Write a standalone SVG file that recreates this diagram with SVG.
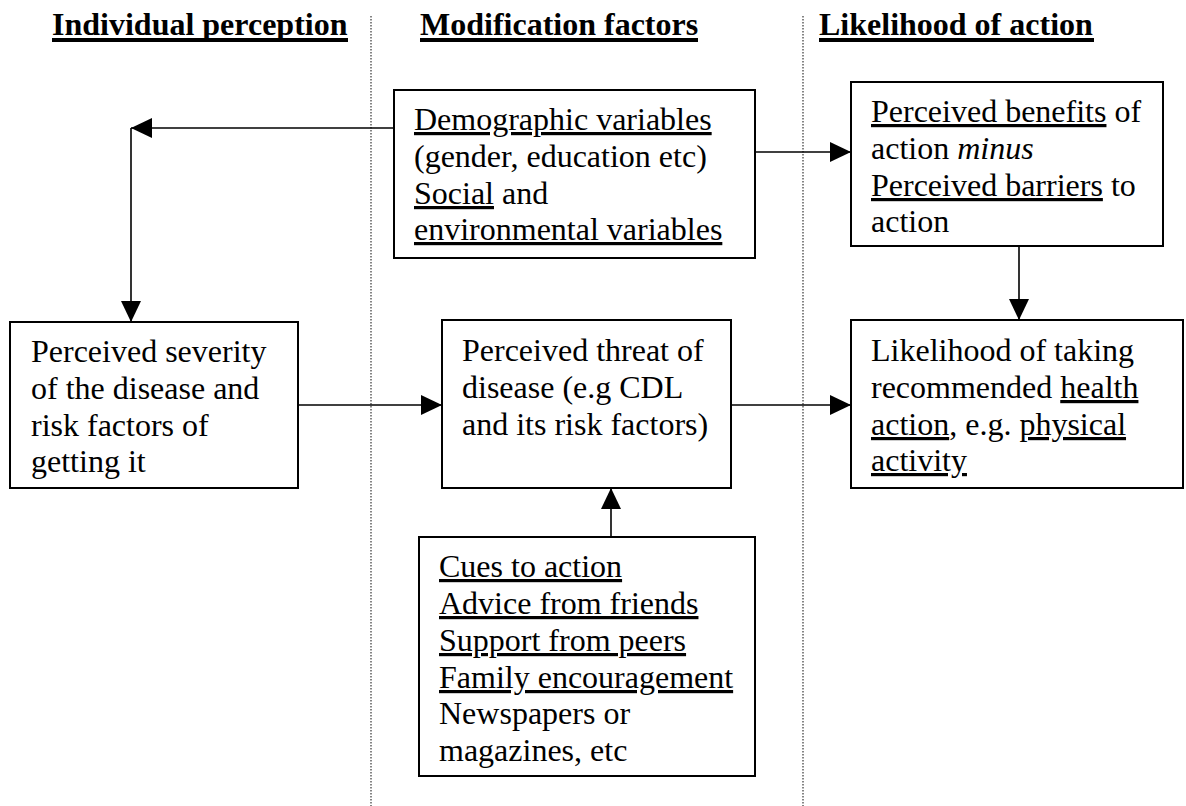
<svg xmlns="http://www.w3.org/2000/svg" width="1186" height="806" viewBox="0 0 1186 806">
<style>
  .box { fill: #fff; stroke: #000; stroke-width: 2; }
  .t { font-family: "Liberation Serif", "Times New Roman", serif; font-size: 32px; fill: #000; }
  .h { font-family: "Liberation Serif", "Times New Roman", serif; font-size: 32px; font-weight: bold; fill: #000; }
  .u { text-decoration: underline; }
  .conn { stroke: #000; stroke-width: 1.6; fill: none; marker-end: url(#arr); }
  .div { stroke: #444; stroke-width: 1.3; stroke-dasharray: 1.5 1.5; }
</style>
<defs>
  <marker id="arr" markerUnits="userSpaceOnUse" markerWidth="21" markerHeight="20" refX="21" refY="10" orient="auto">
    <path d="M0,0 L21,10 L0,20 Z" fill="#000"/>
  </marker>
</defs>
<rect width="1186" height="806" fill="#fff"/>

<g id="dividers">
  <line class="div" x1="371" y1="16" x2="371" y2="806"/>
  <line class="div" x1="803" y1="16" x2="803" y2="806"/>
</g>

<g id="headings">
  <text class="h" x="52" y="35">Individual perception</text>
  <rect x="52" y="38" width="296" height="4" fill="#000"/>
  <text class="h" x="420" y="35">Modification factors</text>
  <rect x="420" y="38" width="278" height="4" fill="#000"/>
  <text class="h" x="819" y="35">Likelihood of action</text>
  <rect x="819" y="38" width="275" height="4" fill="#000"/>
</g>

<g id="connectors">
  <line class="conn" x1="394" y1="128" x2="131" y2="128"/>
  <line class="conn" x1="131" y1="128" x2="131" y2="322"/>
  <line class="conn" x1="755" y1="152" x2="851" y2="152"/>
  <line class="conn" x1="1019" y1="246" x2="1019" y2="320"/>
  <line class="conn" x1="298" y1="405" x2="442" y2="405"/>
  <line class="conn" x1="731" y1="405" x2="851" y2="405"/>
  <line class="conn" x1="611" y1="537" x2="611" y2="488"/>
</g>

<g id="demographic">
  <rect class="box" x="394" y="90" width="361" height="168"/>
  <text class="t" x="414" y="130"><tspan class="u">Demographic variables</tspan></text>
  <text class="t" x="414" y="167">(gender, education etc)</text>
  <text class="t" x="414" y="204"><tspan class="u">Social</tspan> and</text>
  <text class="t" x="414" y="240"><tspan class="u">environmental variables</tspan></text>
</g>

<g id="benefits">
  <rect class="box" x="851" y="82" width="312" height="164"/>
  <text class="t" x="871" y="122"><tspan class="u">Perceived benefits</tspan> of</text>
  <text class="t" x="871" y="159">action <tspan font-style="italic">minus</tspan></text>
  <text class="t" x="871" y="196"><tspan class="u">Perceived barriers</tspan> to</text>
  <text class="t" x="871" y="232">action</text>
</g>

<g id="severity">
  <rect class="box" x="10" y="322" width="288" height="166"/>
  <text class="t" x="31" y="362">Perceived severity</text>
  <text class="t" x="31" y="399">of the disease and</text>
  <text class="t" x="31" y="436">risk factors of</text>
  <text class="t" x="31" y="472">getting it</text>
</g>

<g id="threat">
  <rect class="box" x="442" y="320" width="289" height="168"/>
  <text class="t" x="462" y="361">Perceived threat of</text>
  <text class="t" x="462" y="398">disease (e.g CDL</text>
  <text class="t" x="462" y="435">and its risk factors)</text>
</g>

<g id="likelihood">
  <rect class="box" x="851" y="320" width="332" height="168"/>
  <text class="t" x="871" y="361">Likelihood of taking</text>
  <text class="t" x="871" y="398">recommended <tspan class="u">health</tspan></text>
  <text class="t" x="871" y="435"><tspan class="u">action</tspan>, e.g. <tspan class="u">physical</tspan></text>
  <text class="t" x="871" y="471"><tspan class="u">activity</tspan></text>
</g>

<g id="cues">
  <rect class="box" x="419" y="537" width="336" height="239"/>
  <text class="t" x="439" y="577"><tspan class="u">Cues to action</tspan></text>
  <text class="t" x="439" y="614"><tspan class="u">Advice from friends</tspan></text>
  <text class="t" x="439" y="651"><tspan class="u">Support from peers</tspan></text>
  <text class="t" x="439" y="688"><tspan class="u">Family encouragement</tspan></text>
  <text class="t" x="439" y="724">Newspapers or</text>
  <text class="t" x="439" y="761">magazines, etc</text>
</g>
</svg>
